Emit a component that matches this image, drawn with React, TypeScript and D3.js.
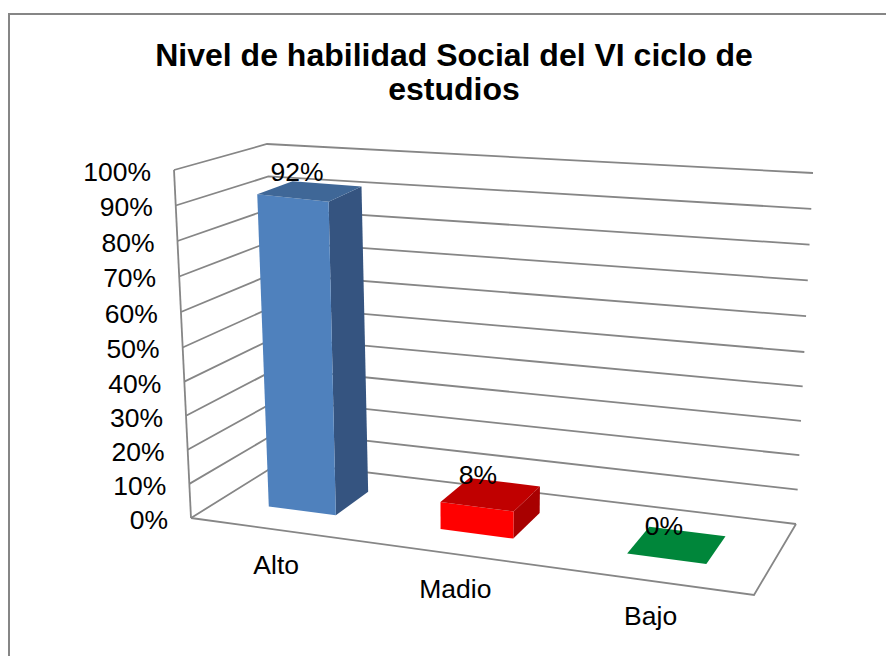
import React from "react";
import * as d3 from "d3";

const categories = ["Alto", "Madio", "Bajo"];
const values = [92, 8, 0];
const valueLabels = ["92%", "8%", "0%"];
const tickValues = [0, 10, 20, 30, 40, 50, 60, 70, 80, 90, 100];
const titleLines = ["Nivel de habilidad Social del VI ciclo de", "estudios"];
const frontColors = ["#4F81BD", "#FF0000", "#00863A"];
const sideColors = ["#355480", "#A80000", "#00863A"];
const topColors = ["#3F6797", "#C00000", "#00863A"];

type P = [number, number];
const FL: P = [191, 518];
const FR: P = [754, 595];
const BR: P = [796, 524];
const BL: P = [281, 462];

// square -> quad homography
function makeFloor(p0: P, p1: P, p2: P, p3: P) {
  const dx1 = p1[0] - p2[0], dx2 = p3[0] - p2[0], sx = p0[0] - p1[0] + p2[0] - p3[0];
  const dy1 = p1[1] - p2[1], dy2 = p3[1] - p2[1], sy = p0[1] - p1[1] + p2[1] - p3[1];
  const den = dx1 * dy2 - dx2 * dy1;
  const g = (sx * dy2 - dx2 * sy) / den;
  const h = (dx1 * sy - sx * dy1) / den;
  const a = p1[0] - p0[0] + g * p1[0], b = p3[0] - p0[0] + h * p3[0], c = p0[0];
  const d = p1[1] - p0[1] + g * p1[1], e = p3[1] - p0[1] + h * p3[1], f = p0[1];
  return (u: number, w: number): P => {
    const q = g * u + h * w + 1;
    return [(a * u + b * w + c) / q, (d * u + e * w + f) / q];
  };
}
const floor = makeFloor(FL, FR, BR, BL);

// rise of 100% at floor position u,w
const riseX = (u: number, w: number) => d3.scaleLinear([0, 1], [d3.scaleLinear([0, 1], [-17, 20])(u), d3.scaleLinear([0, 1], [-14, 17])(u)])(w);
const riseY = (u: number, w: number) => d3.scaleLinear([0, 1], [d3.scaleLinear([0, 1], [-348, -348])(u), d3.scaleLinear([0, 1], [-318, -351])(u)])(w);
const pct = d3.scaleLinear([0, 50, 100], [0, 0.49, 1]);

const at = (u: number, w: number, v: number): P => {
  const [x, y] = floor(u, w);
  return [x + riseX(u, w) * pct(v), y + riseY(u, w) * pct(v)];
};

const band = d3.scaleBand<string>().domain(categories).range([0, 1]).paddingInner(0.6).paddingOuter(0.3);
const depth0 = 0.3, depth1 = 0.7;
const poly = (pts: P[]) => pts.map((p) => p.join(",")).join(" ");
const GRID = "#868686";
const FONT = "'Liberation Sans', Arial, sans-serif";

export default function App() {
  const cols = categories.map((c, i) => {
    const u0 = band(c)!, u1 = u0 + band.bandwidth(), v = values[i];
    return {
      c, i, v, u0, u1,
      front: [at(u0, depth0, 0), at(u1, depth0, 0), at(u1, depth0, v), at(u0, depth0, v)] as P[],
      side: [at(u1, depth0, 0), at(u1, depth1, 0), at(u1, depth1, v), at(u1, depth0, v)] as P[],
      top: [at(u0, depth0, v), at(u1, depth0, v), at(u1, depth1, v), at(u0, depth1, v)] as P[],
    };
  });
  return (
    <svg width={886} height={656} style={{ position: "absolute", left: 0, top: 0, background: "#fff" }}>
      <rect x={9} y={14} width={900} height={800} fill="#fff" stroke={GRID} strokeWidth={2} />
      {titleLines.map((t, i) => (
        <text key={t} x={454} y={66 + i * 34} textAnchor="middle" fontFamily={FONT} fontWeight="bold" fontSize={32} fill="#000">{t}</text>
      ))}
      <g fill="none" stroke={GRID} strokeWidth={1.8}>
        {tickValues.map((t) => {
          const a = at(0, 0, t), b = at(0, 1, t), c = at(1, 1, t);
          return <polyline key={t} points={poly([a, b, c])} />;
        })}
        <line x1={at(0, 0, 0)[0]} y1={at(0, 0, 0)[1]} x2={at(0, 0, 100)[0]} y2={at(0, 0, 100)[1]} />
        <polyline points={poly([at(0, 0, 0), at(1, 0, 0), at(1, 1, 0)])} />
      </g>
      {tickValues.map((t) => {
        const [x, y] = at(0, 0, t);
        return <text key={t} x={x - 23} y={y + 11} textAnchor="end" fontFamily={FONT} fontSize={26.5} fill="#000">{t}%</text>;
      })}
      {cols.map((d) => (
        <g key={d.c}>
          {d.v > 0 && <polygon points={poly(d.side)} fill={sideColors[d.i]} />}
          {d.v > 0 && <polygon points={poly(d.front)} fill={frontColors[d.i]} />}
          <polygon points={poly(d.top)} fill={topColors[d.i]} />
        </g>
      ))}
      {cols.map((d) => {
        const top = at((d.u0 + d.u1) / 2, 0.5, d.v);
        return <text key={d.c} x={top[0] - 13} y={top[1] - 10} textAnchor="middle" fontFamily={FONT} fontSize={26.5} fill="#000">{valueLabels[d.i]}</text>;
      })}
      {cols.map((d) => {
        const p = floor((d.u0 + d.u1) / 2, 0);
        return <text key={d.c} x={p[0] + 1} y={p[1] + 44} textAnchor="middle" fontFamily={FONT} fontSize={26.5} fill="#000">{d.c}</text>;
      })}
    </svg>
  );
}
